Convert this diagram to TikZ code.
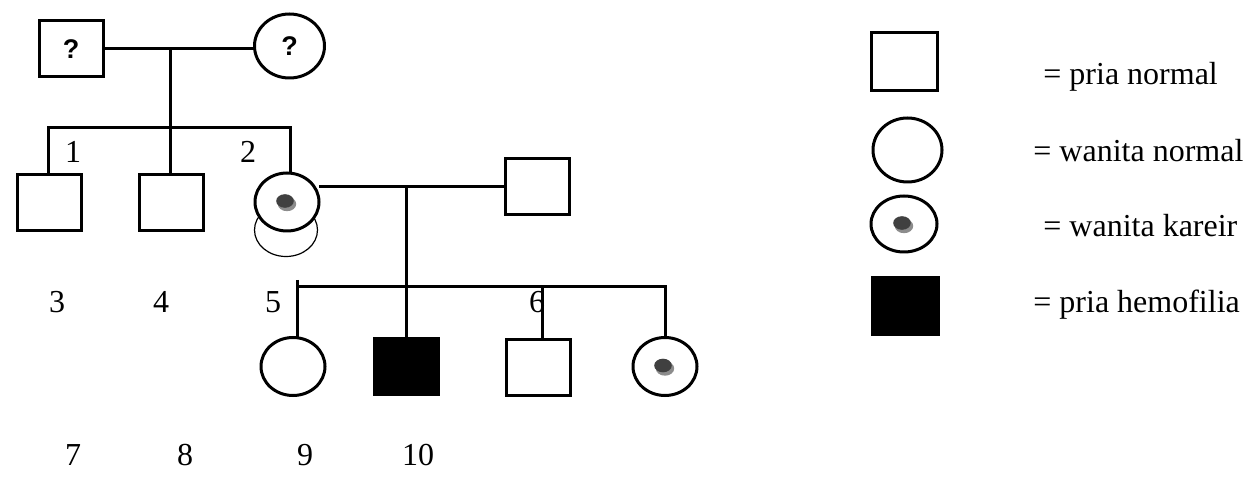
\documentclass[tikz,border=0pt]{standalone}
\usepackage{fontspec}
\setmainfont{Liberation Serif}
\newfontfamily\qfont{Liberation Sans}
\usetikzlibrary{shapes.geometric}
\tikzset{
  male/.style={draw, line width=1.5pt, rectangle, minimum width=32pt, minimum height=28pt, inner sep=0pt, outer sep=0pt},
  female/.style={draw, line width=1.5pt, ellipse, minimum width=32pt, minimum height=29pt, inner sep=0pt, outer sep=0pt, fill=white},
  affected/.style={male, fill=black},
  ghost/.style={draw, line width=0.6pt, ellipse, minimum width=31.5pt, minimum height=26.5pt, inner sep=0pt},
  conn/.style={line width=1.5pt},
  lbl/.style={font=\fontsize{16}{18}\selectfont, inner sep=0pt, anchor=base},
  leg/.style={font=\fontsize{16}{18}\selectfont, inner sep=0pt, anchor=base west},
  qm/.style={font=\qfont\bfseries\fontsize{13.5}{14}\selectfont},
}
\newcommand\kdot[1]{%
  \fill[black!45] ([shift={(0,2)}]#1.center) ellipse [x radius=4.6pt, y radius=3.6pt];
  \fill[black!75] ([shift={(-2,-1)}]#1.center) ellipse [x radius=4.4pt, y radius=3.4pt];}
\begin{document}
\begin{tikzpicture}[x=0.5pt,y=-0.5pt]
\useasboundingbox (0,0) rectangle (1258,496);
% generation I
\node[male,qm] (gf) at (71,49) {?};
\node[female,qm, minimum width=35pt, minimum height=32pt] (gm) at (289.5,46) {?};
% generation II
\node[male] (c1) at (49.5,203) {};
\node[male] (c2) at (171.5,203) {};
\node[ghost] (gh) at (286,230) {};
\node[female] (c3) at (287,202) {};
\kdot{c3}
\node[male] (sp) at (537.5,186.5) {};
% generation III
\node[female] (d1) at (293,366.5) {};
\node[affected] (d2) at (406.5,367) {};
\node[male] (d3) at (538,367.5) {};
\node[female] (d4) at (665,366.5) {};
\kdot{d4}
% connectors
\coordinate (m1) at (170,49);
\coordinate (s1) at (170,128);
\draw[conn] (gf.east) -- (gf.east -| gm.west);
\draw[conn] (m1) -- (s1);
\draw[conn] (c1.north -| 48,0) |- (s1) -| (c3.north -| 290,0);
\draw[conn] (s1) -- (s1 |- c2.north);
\coordinate (m2) at (406,186.5);
\coordinate (s2) at (406,287);
\coordinate (t) at (297,280);
\coordinate (j3) at (542,287);
\draw[conn] (sp.west) -- (sp.west -| c3.east);
\draw[conn] (m2) -- (m2 |- d2.north);
\draw[conn] (t) -- (t |- d1.north);
\draw[conn] (t |- s2) -| (d4.north);
\draw[conn] (j3) -- (j3 |- d3.north);
% numbers
\node[lbl] (n1) at (73,163) {1};
\node[lbl] (n2) at (248,163) {2};
\node[lbl] (n3) at (57,313) {3};
\node[lbl] (n4) at (161,313) {4};
\node[lbl] (n5) at (273,313) {5};
\node[lbl] (n6) at (537,313) {6};
\node[lbl] (n7) at (73,466) {7};
\node[lbl] (n8) at (185,466) {8};
\node[lbl] (n9) at (305,466) {9};
\node[lbl] (n10) at (418,466) {10};
% legend
\node[male, minimum width=33pt, minimum height=29pt] (l1) at (904,62) {};
\node[female, minimum width=34.5pt, minimum height=32pt] (l2) at (907.5,150) {};
\node[female, minimum width=33pt, minimum height=28pt] (l3) at (904,224) {};
\kdot{l3}
\node[affected, minimum width=33pt, minimum height=28.5pt] (l4) at (905,306.5) {};
\node[leg] (t1) at (1043,85) {= pria normal};
\node[leg] (t2) at (1033,162) {= wanita normal};
\node[leg] (t3) at (1043,237) {= wanita kareir};
\node[leg] (t4) at (1033,313) {= pria hemofilia};
\end{tikzpicture}
\end{document}
